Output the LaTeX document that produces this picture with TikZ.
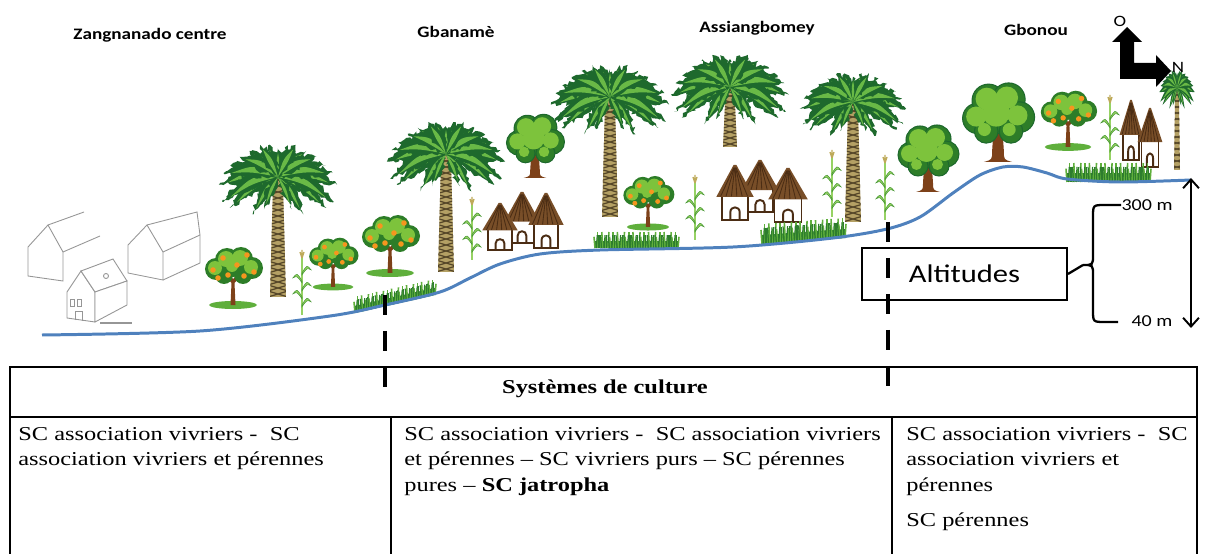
\documentclass[tikz,border=0pt]{standalone}
\usepackage{fontspec}
\setmainfont{Liberation Serif}[FakeStretch=1.24]
\newfontfamily\labelfont{Carlito}[FakeStretch=1.2]
\usepackage{xcolor}
\usetikzlibrary{arrows.meta, positioning, calc, decorations.pathmorphing}

\definecolor{groundblue}{RGB}{79,129,189}
\definecolor{fronddark}{RGB}{30,105,45}
\definecolor{frondlight}{RGB}{105,185,70}
\definecolor{trunktan}{RGB}{180,160,100}
\definecolor{barkbrown}{RGB}{85,70,40}
\definecolor{leafdark}{RGB}{45,125,40}
\definecolor{leaflight}{RGB}{125,195,60}
\definecolor{fruitorange}{RGB}{245,150,30}
\definecolor{woodbrown}{RGB}{125,65,25}
\definecolor{thatchbrown}{RGB}{120,78,40}
\definecolor{thatchdark}{RGB}{75,45,20}
\definecolor{grassgreen}{RGB}{95,175,60}
\definecolor{grassdark}{RGB}{45,125,45}
\definecolor{maizegreen}{RGB}{150,210,100}
\definecolor{maizedark}{RGB}{70,150,50}
\definecolor{tassel}{RGB}{190,170,90}
\definecolor{sketchgrey}{RGB}{150,150,150}

\tikzset{
    village/.style={anchor=base, inner sep=0pt, font=\labelfont\bfseries\fontsize{9.1}{10}\selectfont},
    cell/.style={anchor=north west, inner sep=0pt, align=left, font=\fontsize{11.2}{14.5}\selectfont},
    headcell/.style={anchor=base, inner sep=0pt, font=\bfseries\fontsize{11.2}{14.5}\selectfont},
    legendbox/.style={draw, line width=1.1pt, fill=white, minimum width=4.1cm, minimum height=1.04cm, font=\labelfont\fontsize{14.5}{16}\selectfont},
    altlabel/.style={inner sep=0pt, font=\labelfont\fontsize{9.5}{11}\selectfont},
    compass/.style={inner sep=0pt, font=\labelfont\fontsize{9}{10}\selectfont},
    bracket/.style={line width=1.3pt},
    altarrow/.style={{Straight Barb[length=5pt,width=9pt]}-{Straight Barb[length=5pt,width=9pt]}, line width=1.1pt},
    ground/.style={draw=groundblue, line width=1.7pt},
    zoneline/.style={line width=2.8pt, dash pattern=on 0.4cm off 0.32cm},
    tableline/.style={line width=1.1pt},
    sketch/.style={draw=sketchgrey, line width=0.5pt},
    feathery/.style={decorate, decoration={random steps, segment length=1.6pt, amplitude=1.1pt}},
}

% palm: x, base y, crown y, crown options, trunk half width
\newcommand{\palmtree}[5]{%
  \pgfmathsetmacro\trunkh{#2-#3}
  \pgfmathsetmacro\trunkw{0.6*#5}
  \begin{scope}[shift={(#1,#2)}]
    \begin{scope}
      \clip (-#5,0) -- (-\trunkw,-\trunkh) -- (\trunkw,-\trunkh) -- (#5,0) -- cycle;
      \fill[trunktan] (-10,2) rectangle (10,-\trunkh-2);
      \foreach \k in {0,6,...,156}
        \draw[barkbrown, line width=0.7pt] (-10,-\k) -- (10,-\k-6) (-10,-\k-6) -- (10,-\k);
    \end{scope}
  \end{scope}
  \begin{scope}[shift={(#1,#3)}, #4]
    \foreach \fa/\fl/\fd in {345/50/18, 195/50/18, 315/36/12, 225/36/12, 170/60/18, 10/60/18,
                             150/55/16, 30/55/16, 128/46/10, 52/46/10, 105/38/5, 75/38/5, 90/30/2,
                             185/56/20, 355/56/20, 160/58/16, 20/58/16, 140/50/12, 40/50/12,
                             115/42/6, 65/42/6, 300/28/8, 240/28/8} {
      \fill[fronddark, feathery] (0,0) .. controls ($(-\fa:0.5*\fl)+(-\fa+90:0.2*\fl)$) .. ($(-\fa:\fl)+(0,\fd)$)
                             .. controls ($(-\fa:0.5*\fl)+(-\fa-90:0.2*\fl)$) .. (0,0);
      \fill[frondlight] (0,0) .. controls ($(-\fa:0.45*\fl)+(-\fa+90:0.07*\fl)$) .. ($(-\fa:0.85*\fl)+(0,0.8*\fd)$)
                              .. controls ($(-\fa:0.45*\fl)+(-\fa-90:0.07*\fl)$) .. (0,0);
    }
  \end{scope}}

% orange tree: x, base y, scale
\newcommand{\orangetree}[3]{%
  \begin{scope}[shift={(#1,#2)}, scale=#3]
    \fill[grassgreen] (0,0) ellipse (24 and 4);
    \fill[woodbrown] (-2.5,0) -- (-1.5,-22) -- (-9,-31) -- (-7,-33) -- (0,-26) -- (7,-33) -- (9,-31) -- (1.5,-22) -- (2.5,0) -- cycle;
    \foreach \cx/\cy/\cr in {-17/-36/11, -6/-45/12, 8/-46/12, 19/-37/11, -9/-30/9, 10/-30/9, 0/-38/10}
      \fill[leafdark] (\cx,\cy) circle (\cr);
    \foreach \cx/\cy/\cr in {-17/-36/11, -6/-45/12, 8/-46/12, 19/-37/11, 0/-38/10}
      \fill[leaflight] (\cx-1,\cy-1) circle (\cr-4);
    \foreach \ox/\oy in {-20/-35, -10/-47, 4/-40, 14/-50, 21/-33, -5/-30, 11/-29, -15/-27}
      \fill[fruitorange] (\ox,\oy) circle (2.8);
  \end{scope}}

% leafy tree: x, base y, scale
\newcommand{\leafytree}[3]{%
  \begin{scope}[shift={(#1,#2)}, scale=#3]
    \fill[woodbrown] (-12,0) .. controls (-5,-2) .. (-5,-9) -- (-4,-24) -- (4,-24) -- (5,-9) .. controls (5,-2) .. (12,0) -- cycle;
    \foreach \cx/\cy/\cr in {-17/-37/13, -8/-52/14, 9/-53/14, 18/-38/13, 0/-40/16, -10/-26/10, 11/-26/10}
      \filldraw[fill=leafdark, draw=fronddark, line width=0.6pt] (\cx,\cy) circle (\cr);
    \foreach \cx/\cy/\cr in {-17/-37/13, -8/-52/14, 9/-53/14, 18/-38/13, 0/-40/16, -10/-26/10, 11/-26/10}
      \fill[leaflight] (\cx-1.5,\cy-1.5) circle (\cr-4.5);
  \end{scope}}

% hut: x, base y, width, height
\newcommand{\hut}[4]{%
  \begin{scope}[shift={(#1,#2)}]
    \filldraw[fill=white, draw=thatchdark, line width=0.9pt] (-0.36*#3,0) rectangle (0.36*#3,-0.5*#4);
    \draw[thatchdark, line width=1.1pt] (-0.13*#3,0) -- (-0.13*#3,-0.14*#4)
        .. controls (-0.13*#3,-0.26*#4) and (0.13*#3,-0.26*#4) .. (0.13*#3,-0.14*#4) -- (0.13*#3,0);
    \fill[thatchbrown] (-0.52*#3,-0.42*#4) -- (-0.04*#3,-#4) -- (0.04*#3,-#4) -- (0.52*#3,-0.42*#4) -- cycle;
    \foreach \s in {-0.4,-0.25,...,0.41}
      \draw[thatchdark, line width=0.5pt] (\s*#3,-0.43*#4) -- (0.08*\s*#3,-0.95*#4);
  \end{scope}}

% maize: x, base y, height
\newcommand{\maize}[3]{%
  \begin{scope}[shift={(#1,#2)}]
    \draw[maizegreen, line width=1.4pt] (0,0) -- (0,-#3);
    \foreach \f/\sd in {0.18/1, 0.32/-1, 0.46/1, 0.6/-1, 0.74/1}
      \filldraw[fill=maizegreen, draw=maizedark, line width=0.3pt] (0,-\f*#3) .. controls (\sd*5,-\f*#3-8) .. (\sd*9,-\f*#3-3)
          .. controls (\sd*5,-\f*#3-5) .. (0,-\f*#3+2) -- cycle;
    \draw[tassel, line width=0.8pt] (0,-#3) -- (-2,-#3-6) (0,-#3) -- (0,-#3-8) (0,-#3) -- (2,-#3-6);
  \end{scope}}

% grass: x1, y1, x2, y2, height
\newcommand{\grassstrip}[5]{%
  \fill[grassdark] (#1,#2) -- (#3,#4) -- (#3,#4-0.45*#5) -- (#1,#2-0.45*#5) -- cycle;
  \foreach \i [evaluate=\i as \gf using \i/32] in {0,...,32}
    \draw[grassgreen, line width=0.9pt] ($(#1,#2)!\gf!(#3,#4)$) -- ++({mod(\i,3)-1},{-#5*(0.7+0.3*mod(\i,2))});
  \foreach \i [evaluate=\i as \gf using (\i+0.5)/32] in {0,...,31}
    \draw[grassdark, line width=0.7pt] ($(#1,#2)!\gf!(#3,#4)$) -- ++({1-mod(\i,3)},{-#5*0.8});
}

\begin{document}
\begin{tikzpicture}[x=0.02cm, y=-0.02cm]
    \useasboundingbox (0,0) rectangle (1205,554);

    % Houses of Zangnanado
    \draw[sketch] (28,276) -- (28,247) -- (48,225) -- (63,252) -- (63,281) -- cycle;
    \draw[sketch] (48,225) -- (84,212);
    \draw[sketch] (63,252) -- (100,236);
    \draw[sketch] (128,273) -- (128,245) -- (147,225) -- (163,252) -- (163,280) -- cycle;
    \draw[sketch] (147,225) -- (197,212) -- (200,235) -- (200,263) -- (163,280);
    \draw[sketch] (163,252) -- (200,235);
    \filldraw[sketch, fill=white] (67,318) -- (67,292) -- (81,271) -- (95,292) -- (95,322) -- cycle;
    \filldraw[sketch, fill=white] (81,271) -- (113,259) -- (127,281) -- (95,292) -- cycle;
    \filldraw[sketch, fill=white] (95,292) -- (127,281) -- (127,305) -- (95,322) -- cycle;
    \draw[sketch] (70,299) rectangle (74,306) (77,299) rectangle (81,306);
    \draw[sketch] (75,320) -- (75,311) -- (82,311) -- (82,321);
    \draw[sketch] (106,276) circle (2.5);
    \draw[sketch, line width=1pt] (100,323) -- (132,323);

    % Palms
    \palmtree{278}{297}{177}{scale=1}{8}
    \palmtree{446}{272}{154}{scale=1}{8}
    \palmtree{610}{217}{97}{scale=1}{8}
    \palmtree{730}{147}{87}{scale=1}{7}
    \palmtree{853}{222}{102}{scale=0.9}{8}
    \palmtree{1177}{170}{88}{xscale=0.3, yscale=0.55, feathery/.style={}}{3}

    % Trees
    \leafytree{535}{178}{0.95}
    \leafytree{928}{192}{1}
    \leafytree{998}{162}{1.18}

    % Huts
    \hut{522}{243}{34}{51}
    \hut{500}{250}{34}{47}
    \hut{546}{248}{34}{55}
    \hut{760}{212}{36}{52}
    \hut{735}{220}{36}{55}
    \hut{788}{222}{38}{54}
    \hut{1131}{160}{22}{60}
    \hut{1150}{167}{24}{59}

    % Orange trees
    \orangetree{233}{305}{1}
    \orangetree{333}{287}{0.85}
    \orangetree{390}{273}{1}
    \orangetree{648}{227}{0.88}
    \orangetree{1068}{147}{0.97}

    % Maize
    \maize{302}{315}{57}
    \maize{472}{260}{55}
    \maize{695}{240}{57}
    \maize{832}{217}{59}
    \maize{885}{220}{57}
    \maize{1110}{160}{57}

    % Grass
    \grassstrip{355}{313}{435}{295}{16}
    \grassstrip{595}{248}{678}{248}{16}
    \grassstrip{762}{244}{845}{238}{20}
    \grassstrip{1067}{182}{1150}{182}{19}

    % Ground profile
    \draw[ground] plot[smooth, tension=0.5] coordinates {(42,335) (200,331) (330,316) (385,305) (440,292)
        (470,278) (500,264) (540,254) (600,250) (733,247) (833,238) (887,229) (920,217) (953,193)
        (980,175) (1003,167) (1023,167) (1047,173) (1067,179) (1120,182) (1191,180)};

    % Village names
    \node[village] (zangnanado) at (150,40) {Zangnanado centre};
    \node[village] (gbaname) at (456,38) {Gbanamè};
    \node[village] (assiangbomey) at (757,33) {Assiangbomey};
    \node[village] (gbonou) at (1036,36) {Gbonou};

    % Compass
    \fill (1120,79) -- (1120,42) -- (1112,42) -- (1127,27) -- (1142,42) -- (1134,42) -- (1134,63)
        -- (1156,63) -- (1156,55) -- (1171,71) -- (1156,87) -- (1156,79) -- cycle;
    \node[compass] (west) at (1120,21) {O};
    \node[compass] (north) at (1178,67) {N};

    % Altitudes
    \node[legendbox] (altbox) at (964.5,274) {Altitudes};
    \node[altlabel] (lbl300) at (1147,205) {300 m};
    \node[altlabel] (lbl40) at (1152,321) {40 m};
    \coordinate (bracetip) at (1083,265);
    \coordinate (arm40) at (1118,322);
    \draw[bracket] (altbox.east) -- (bracetip);
    \draw[bracket] (lbl300.west) -- (1105,205) .. controls (1093,205) .. (1093,217) -- (1093,255)
        .. controls (1093,265) .. (bracetip) .. controls (1093,265) .. (1093,275) -- (1093,310)
        .. controls (1093,322) .. (1105,322) -- (arm40);
    \coordinate (alttop) at (1191,178);
    \coordinate (altbot) at (1191,328);
    \draw[altarrow] (alttop) -- (altbot);

    % Table
    \draw[tableline, line width=1.5pt] (10,554) -- (10,367) -- (1197,367) -- (1197,554);
    \draw[tableline] (10,417) -- (1197,417);
    \draw[tableline] (391,417) -- (391,554);
    \draw[tableline] (892,417) -- (892,554);
    \node[headcell] (tabhead) at (605,393) {Systèmes de culture};
    \node[cell] (cellA) at (18,427) {SC association vivriers -\ \ SC\\association vivriers et pérennes};
    \node[cell] (cellB) at (404,427) {SC association vivriers -\ \ SC association vivriers\\et pérennes -- SC vivriers purs -- SC pérennes\\pures -- \textbf{SC jatropha}};
    \node[cell] (cellC) at (906,427) {SC association vivriers -\ \ SC\\association vivriers et\\pérennes\\[5.5pt]SC pérennes};

    % Zone limits
    \coordinate (limAtop) at (385,295);
    \coordinate (limAbot) at (385,390);
    \coordinate (limBtop) at (888,222);
    \coordinate (limBbot) at (888,390);
    \draw[zoneline] (limAtop) -- (limAbot);
    \draw[zoneline] (limBtop) -- (limBbot);
\end{tikzpicture}
\end{document}
